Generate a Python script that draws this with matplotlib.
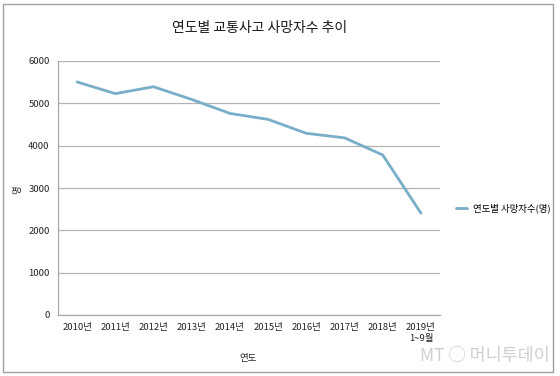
import matplotlib
matplotlib.use("Agg")
import matplotlib.pyplot as plt
from matplotlib.patches import Rectangle

plt.rcParams['font.family'] = ['Noto Sans CJK KR', 'DejaVu Sans']

categories = ["2010년", "2011년", "2012년", "2013년", "2014년", "2015년",
              "2016년", "2017년", "2018년", "2019년\n1~9월"]
deaths = [5505, 5229, 5392, 5092, 4762, 4621, 4292, 4185, 3781, 2407]
yticks = [0, 1000, 2000, 3000, 4000, 5000, 6000]

title = "연도별 교통사고 사망자수 추이"
series_name = "연도별 사망자수(명)"
xlabel = "연도"
ylabel = "명"

fig = plt.figure(figsize=(5.6, 3.76), dpi=100)
fig.patch.set_facecolor("white")
ax = fig.add_axes([58/560, 1-315/376, (440-58)/560, (315-61)/376])

x = list(range(len(categories)))
line, = ax.plot(x, deaths, color="#78AEC8", lw=2.0, solid_capstyle="round",
                solid_joinstyle="round", label=series_name)

ax.set_xlim(-0.5, len(categories) - 0.5)
ax.set_ylim(0, 6000)
ax.set_yticks(yticks)
ax.set_yticklabels([str(v) for v in yticks], fontsize=6.8, color="#222222")
ax.set_xticks(x)
ax.set_xticklabels(categories, fontsize=6.8, color="#222222", linespacing=1.3)
ax.tick_params(length=0, pad=6)
ax.yaxis.grid(True, color="#B4B4B4", lw=0.9)
ax.set_axisbelow(True)
for s in ["top", "right"]:
    ax.spines[s].set_visible(False)
for s in ["left", "bottom"]:
    ax.spines[s].set_color("#A8A8A8")
    ax.spines[s].set_linewidth(0.9)

fig.text(260/560, 1-28/376, title, ha="center", va="center", fontsize=10, color="#1A1A1A")
fig.text(248/560, 1-358/376, xlabel, ha="center", va="center", fontsize=6.8, color="#222222")
fig.text(18/560, 1-190/376, ylabel, ha="center", va="center", fontsize=6.8, rotation=90, color="#222222")

ax.legend(handles=[line], loc="center left", bbox_to_anchor=(1.02, 0.42),
          frameon=False, fontsize=6.8, handlelength=1.2, handletextpad=0.6)

fig.text(550/560, 1-356/376, "MT ◯ 머니투데이", ha="right", va="center",
         fontsize=12.5, color="#CFCFCF", style="italic")

fig.patches.append(Rectangle((3/560, 4/376), 550/560, 368/376, transform=fig.transFigure,
                             fill=False, edgecolor="#A0A0A0", lw=1.0))

fig.savefig("out.png", dpi=100)
